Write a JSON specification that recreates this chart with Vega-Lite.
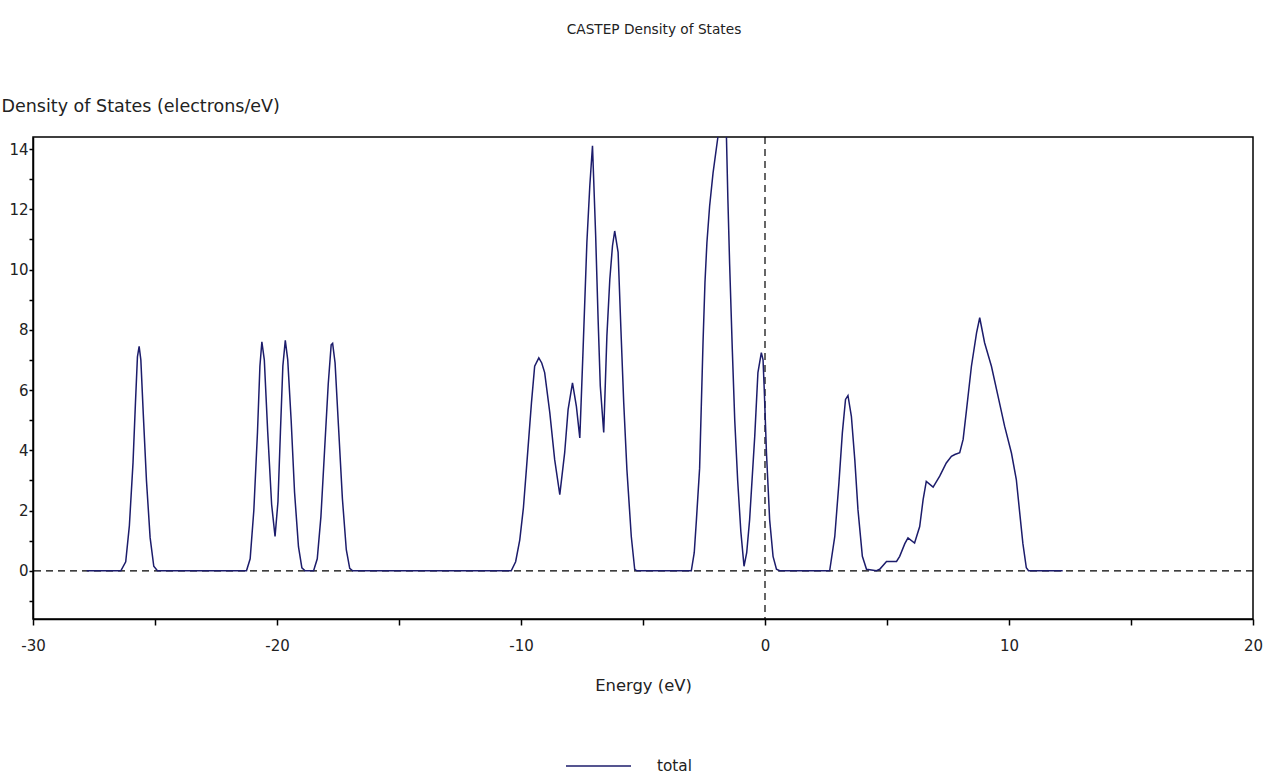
{
  "$schema": "https://vega.github.io/schema/vega-lite/v6.json",
  "autosize": {"type": "none"},
  "width": 1220,
  "height": 482,
  "padding": {"left": 33, "top": 137, "right": 21, "bottom": 155},
  "background": "white",
  "title": {"text": "CASTEP Density of States", "font": "DejaVu Sans", "fontSize": 13.7, "fontWeight": "normal", "color": "#222222", "anchor": "middle", "offset": 60, "dx": 11},
  "config": {
    "view": {"stroke": "black", "strokeWidth": 1.5},
    "axis": {"grid": false, "domainColor": "black", "domainWidth": 1.5, "tickColor": "black", "tickWidth": 1.5, "labelFont": "DejaVu Sans", "labelFontSize": 15, "labelColor": "#222222", "titleFont": "DejaVu Sans", "titleFontSize": 16.4, "titleFontWeight": "normal", "titleColor": "#222222"},
    "legend": {"labelFont": "DejaVu Sans", "labelFontSize": 15.3, "labelColor": "#222222"}
  },
  "layer": [
    {
      "data": {"values": [{"energy": 0, "dos": 0}]},
      "mark": {"type": "rule", "color": "black", "strokeWidth": 1.2, "strokeDash": [7, 5]},
      "encoding": {
        "y": {"field": "dos", "type": "quantitative",
              "scale": {"domain": [-1.6, 14.4], "nice": false, "zero": false},
              "axis": {"title": "Density of States (electrons/eV)", "titleFontSize": 17.5, "values": [-1, 0, 1, 2, 3, 4, 5, 6, 7, 8, 9, 10, 11, 12, 13, 14],
                       "labelExpr": "datum.value % 2 == 0 ? toString(datum.value) : ''", "tickSize": 4, "labelPadding": 1,
                       "titleAngle": 0, "titleAlign": "left", "titleBaseline": "middle", "titleX": -32, "titleY": -31,
                       "labelOverlap": false, "labelFlush": false}}
      }
    },
    {
      "data": {"values": [{"energy": 0, "dos": 0}]},
      "mark": {"type": "rule", "color": "black", "strokeWidth": 1.2, "strokeDash": [7, 5]},
      "encoding": {
        "x": {"field": "energy", "type": "quantitative",
              "scale": {"domain": [-30, 20], "nice": false, "zero": false},
              "axis": {"title": "Energy (eV)", "values": [-30, -25, -20, -15, -10, -5, 0, 5, 10, 15, 20],
                       "labelExpr": "datum.value % 10 == 0 ? toString(datum.value) : ''", "tickSize": 6, "labelPadding": 13,
                       "titlePadding": 24, "labelFlush": false, "labelOverlap": false}}
      }
    },
    {
      "data": {"values": [
        {"energy": -27.8, "dos": 0}, {"energy": -26.4, "dos": 0}, {"energy": -26.2, "dos": 0.3}, {"energy": -26.05, "dos": 1.5},
        {"energy": -25.9, "dos": 3.6}, {"energy": -25.8, "dos": 5.6}, {"energy": -25.72, "dos": 7.1}, {"energy": -25.65, "dos": 7.45},
        {"energy": -25.58, "dos": 7.0}, {"energy": -25.48, "dos": 5.2}, {"energy": -25.35, "dos": 3.0}, {"energy": -25.2, "dos": 1.1},
        {"energy": -25.05, "dos": 0.15}, {"energy": -24.9, "dos": 0},
        {"energy": -21.25, "dos": 0}, {"energy": -21.1, "dos": 0.4}, {"energy": -20.95, "dos": 2.0}, {"energy": -20.8, "dos": 4.6},
        {"energy": -20.7, "dos": 6.8}, {"energy": -20.62, "dos": 7.6}, {"energy": -20.52, "dos": 7.0}, {"energy": -20.38, "dos": 4.6},
        {"energy": -20.22, "dos": 2.2}, {"energy": -20.08, "dos": 1.14}, {"energy": -19.96, "dos": 2.3}, {"energy": -19.86, "dos": 4.6},
        {"energy": -19.76, "dos": 6.8}, {"energy": -19.66, "dos": 7.65}, {"energy": -19.56, "dos": 7.0}, {"energy": -19.42, "dos": 5.0},
        {"energy": -19.28, "dos": 2.6}, {"energy": -19.12, "dos": 0.8}, {"energy": -18.98, "dos": 0.1}, {"energy": -18.85, "dos": 0},
        {"energy": -18.5, "dos": 0}, {"energy": -18.35, "dos": 0.4}, {"energy": -18.2, "dos": 1.8}, {"energy": -18.05, "dos": 4.0},
        {"energy": -17.9, "dos": 6.2}, {"energy": -17.78, "dos": 7.5}, {"energy": -17.72, "dos": 7.55}, {"energy": -17.62, "dos": 6.9},
        {"energy": -17.48, "dos": 4.8}, {"energy": -17.32, "dos": 2.4}, {"energy": -17.16, "dos": 0.7}, {"energy": -17.02, "dos": 0.08},
        {"energy": -16.9, "dos": 0},
        {"energy": -10.4, "dos": 0}, {"energy": -10.22, "dos": 0.3}, {"energy": -10.05, "dos": 1.03}, {"energy": -9.9, "dos": 2.1},
        {"energy": -9.78, "dos": 3.36}, {"energy": -9.57, "dos": 5.59}, {"energy": -9.44, "dos": 6.79}, {"energy": -9.27, "dos": 7.07},
        {"energy": -9.15, "dos": 6.9}, {"energy": -9.03, "dos": 6.58}, {"energy": -8.82, "dos": 5.25}, {"energy": -8.62, "dos": 3.69},
        {"energy": -8.41, "dos": 2.53}, {"energy": -8.21, "dos": 3.92}, {"energy": -8.07, "dos": 5.35}, {"energy": -7.89, "dos": 6.24},
        {"energy": -7.73, "dos": 5.46}, {"energy": -7.59, "dos": 4.41}, {"energy": -7.46, "dos": 7.25}, {"energy": -7.3, "dos": 10.9},
        {"energy": -7.18, "dos": 12.78}, {"energy": -7.07, "dos": 14.11}, {"energy": -6.94, "dos": 11.12}, {"energy": -6.84, "dos": 8.35},
        {"energy": -6.75, "dos": 6.13}, {"energy": -6.61, "dos": 4.59}, {"energy": -6.48, "dos": 7.79}, {"energy": -6.36, "dos": 9.68},
        {"energy": -6.25, "dos": 10.79}, {"energy": -6.16, "dos": 11.28}, {"energy": -6.02, "dos": 10.57}, {"energy": -5.91, "dos": 8.12},
        {"energy": -5.79, "dos": 5.58}, {"energy": -5.66, "dos": 3.36}, {"energy": -5.48, "dos": 1.14}, {"energy": -5.34, "dos": 0.05},
        {"energy": -5.25, "dos": 0},
        {"energy": -3.02, "dos": 0}, {"energy": -2.9, "dos": 0.6}, {"energy": -2.81, "dos": 1.7}, {"energy": -2.68, "dos": 3.4},
        {"energy": -2.54, "dos": 7.58}, {"energy": -2.46, "dos": 9.58}, {"energy": -2.38, "dos": 10.9}, {"energy": -2.27, "dos": 12.1},
        {"energy": -2.13, "dos": 13.2}, {"energy": -1.93, "dos": 14.4}, {"energy": -1.73, "dos": 15.3}, {"energy": -1.58, "dos": 14.4},
        {"energy": -1.52, "dos": 12.3}, {"energy": -1.45, "dos": 10.2}, {"energy": -1.34, "dos": 7.35}, {"energy": -1.24, "dos": 5.0},
        {"energy": -1.12, "dos": 3.0}, {"energy": -0.99, "dos": 1.3}, {"energy": -0.86, "dos": 0.15}, {"energy": -0.75, "dos": 0.6},
        {"energy": -0.63, "dos": 1.7}, {"energy": -0.42, "dos": 4.47}, {"energy": -0.29, "dos": 6.58}, {"energy": -0.15, "dos": 7.24},
        {"energy": -0.08, "dos": 7.0}, {"energy": -0.03, "dos": 6.0}, {"energy": 0.06, "dos": 3.92}, {"energy": 0.19, "dos": 1.7},
        {"energy": 0.33, "dos": 0.48}, {"energy": 0.47, "dos": 0.05}, {"energy": 0.6, "dos": 0},
        {"energy": 2.65, "dos": 0}, {"energy": 2.86, "dos": 1.14}, {"energy": 3.03, "dos": 2.92}, {"energy": 3.17, "dos": 4.58},
        {"energy": 3.3, "dos": 5.69}, {"energy": 3.4, "dos": 5.82}, {"energy": 3.54, "dos": 5.13}, {"energy": 3.68, "dos": 3.69},
        {"energy": 3.81, "dos": 2.03}, {"energy": 3.99, "dos": 0.48}, {"energy": 4.16, "dos": 0.05}, {"energy": 4.57, "dos": 0},
        {"energy": 4.7, "dos": 0.05}, {"energy": 4.98, "dos": 0.31}, {"energy": 5.39, "dos": 0.31}, {"energy": 5.52, "dos": 0.48},
        {"energy": 5.73, "dos": 0.9}, {"energy": 5.86, "dos": 1.09}, {"energy": 6.13, "dos": 0.92}, {"energy": 6.34, "dos": 1.47},
        {"energy": 6.48, "dos": 2.36}, {"energy": 6.61, "dos": 2.97}, {"energy": 6.89, "dos": 2.78}, {"energy": 7.16, "dos": 3.14},
        {"energy": 7.43, "dos": 3.58}, {"energy": 7.64, "dos": 3.8}, {"energy": 7.78, "dos": 3.86}, {"energy": 7.98, "dos": 3.92},
        {"energy": 8.12, "dos": 4.36}, {"energy": 8.26, "dos": 5.35}, {"energy": 8.46, "dos": 6.79}, {"energy": 8.67, "dos": 7.9},
        {"energy": 8.8, "dos": 8.4}, {"energy": 9.0, "dos": 7.57}, {"energy": 9.28, "dos": 6.79}, {"energy": 9.55, "dos": 5.8},
        {"energy": 9.82, "dos": 4.8}, {"energy": 10.1, "dos": 3.91}, {"energy": 10.3, "dos": 3.03}, {"energy": 10.43, "dos": 2.0},
        {"energy": 10.57, "dos": 0.9}, {"energy": 10.71, "dos": 0.1}, {"energy": 10.8, "dos": 0}, {"energy": 12.2, "dos": 0}
      ]},
      "mark": {"type": "line", "clip": true, "strokeWidth": 1.5, "interpolate": "linear"},
      "encoding": {
        "x": {"field": "energy", "type": "quantitative", "sort": null,
              "scale": {"domain": [-30, 20], "nice": false, "zero": false},
              "axis": {"title": "Energy (eV)", "values": [-30, -25, -20, -15, -10, -5, 0, 5, 10, 15, 20],
                       "labelExpr": "datum.value % 10 == 0 ? toString(datum.value) : ''", "tickSize": 6, "labelPadding": 13,
                       "titlePadding": 24, "labelFlush": false, "labelOverlap": false}},
        "y": {"field": "dos", "type": "quantitative",
              "scale": {"domain": [-1.6, 14.4], "nice": false, "zero": false},
              "axis": {"title": "Density of States (electrons/eV)", "titleFontSize": 17.5, "values": [-1, 0, 1, 2, 3, 4, 5, 6, 7, 8, 9, 10, 11, 12, 13, 14],
                       "labelExpr": "datum.value % 2 == 0 ? toString(datum.value) : ''", "tickSize": 4, "labelPadding": 1,
                       "titleAngle": 0, "titleAlign": "left", "titleBaseline": "middle", "titleX": -32, "titleY": -31,
                       "labelOverlap": false, "labelFlush": false}},
        "color": {"datum": "total", "type": "nominal", "scale": {"range": ["#1c1c6b"]},
                  "legend": {"title": null, "orient": "none", "legendX": 532, "legendY": 595.5, "padding": 0,
                             "symbolType": "stroke", "symbolSize": 4225, "symbolStrokeWidth": 1.5, "labelOffset": 25}}
      }
    }
  ]
}
